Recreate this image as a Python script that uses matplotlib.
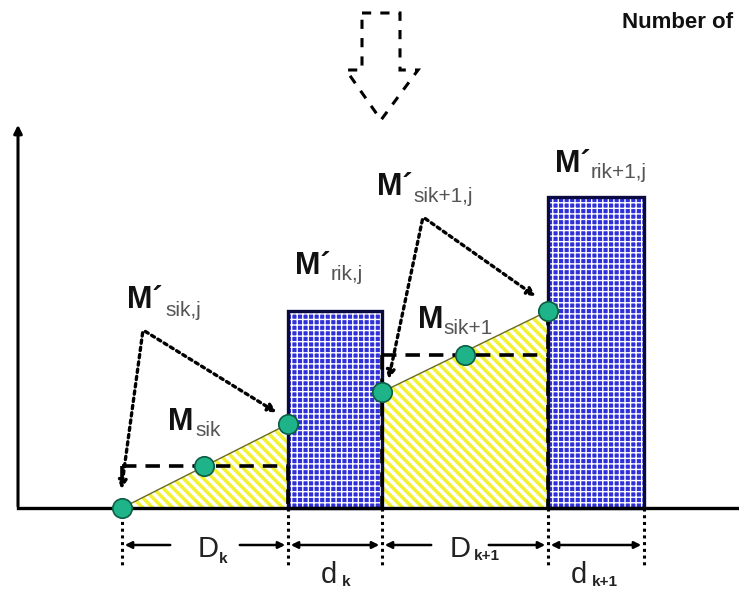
import matplotlib
matplotlib.use("Agg")
import matplotlib.pyplot as plt
from matplotlib.patches import Polygon, Rectangle
import numpy as np

plt.rcParams['font.family'] = ['Liberation Sans', 'DejaVu Sans']
plt.rcParams['hatch.linewidth'] = 1.0

# diagram geometry (pixel units, y grows downward)
base_y = 508
t_edges = [122, 288, 382, 548, 644]          # time boundaries of D_k, d_k, D_k+1, d_k+1
rik_tops = [311, 197]                         # top of the two blue bars (M'rik,j)
sik_start = [508, 392]                        # value at start of each sampling period
sik_end = [424, 311]                          # value at end of each sampling period (M'sik,j)
sik_mean = [466, 355]                         # mean value of each period (M_sik)
mean_x = [204, 465]

# labels: (main, sub, x_main, y_main, x_sub, y_sub)
labels = [
    ("M\u00b4", "sik,j", 127, 308, 165, 316),
    ("M\u00b4", "rik,j", 295, 274, 331, 280),
    ("M\u00b4", "sik+1,j", 377, 195, 413, 202),
    ("M\u00b4", "rik+1,j", 555, 172, 591, 178),
    ("M", "sik", 168, 430, 195, 436),
    ("M", "sik+1", 418, 328, 443, 334),
]
dim_labels = [("D", "k", 198, 557, 219, 563),
              ("d", "k", 321, 583, 342, 586),
              ("D", "k+1", 450, 557, 474, 560),
              ("d", "k+1", 571, 583, 592, 586)]

fig = plt.figure(figsize=(7.39, 5.91), dpi=100)
ax = fig.add_axes([0, 0, 1, 1])
ax.set_xlim(0, 739)
ax.set_ylim(591, 0)
ax.axis('off')

blue = '#3030d8'
yellow = '#f2f230'
green = '#1fb38a'

# blue bars with white grid
for i, top in enumerate(rik_tops):
    xl, xr = t_edges[2 * i + 1], t_edges[2 * i + 2]
    ax.add_patch(Rectangle((xl, top), xr - xl, base_y - top, facecolor=blue,
                           edgecolor='white', hatch='+++', lw=0, zorder=2))
    ax.add_patch(Rectangle((xl, top), xr - xl, base_y - top, facecolor='none',
                           edgecolor='#0a0a40', lw=2.4, zorder=3))

# yellow areas with white diagonal stripes
for i in range(2):
    xl, xr = t_edges[2 * i], t_edges[2 * i + 1]
    poly = Polygon([(xl, base_y), (xl, sik_start[i]), (xr, sik_end[i]), (xr, base_y)],
                   closed=True, facecolor=yellow, edgecolor='none', zorder=2)
    ax.add_patch(poly)
    for c in np.arange(-700, 700, 10):
        xs = np.array([0, 739])
        ln, = ax.plot(xs, xs + c, color='white', lw=2.6, zorder=2.5)
        ln.set_clip_path(poly)
    ax.plot([xl, xr], [sik_start[i], sik_end[i]], color='#6b6b20', lw=1.0, zorder=3)

# dashed mean lines and verticals
dash = dict(color='black', lw=2.6, ls=(0, (4, 2.5)), zorder=4)
ax.plot([t_edges[0], t_edges[1]], [sik_mean[0]] * 2, **dash)
ax.plot([t_edges[0], t_edges[0]], [sik_mean[0], sik_mean[0] + 12], **dash)
ax.plot([t_edges[1], t_edges[1]], [sik_mean[0], base_y], **dash)
ax.plot([t_edges[2], t_edges[3]], [sik_mean[1]] * 2, **dash)
ax.plot([t_edges[2], t_edges[2]], [sik_mean[1], base_y], **dash)
ax.plot([t_edges[3], t_edges[3]], [sik_end[1], base_y], **dash)

# axes
ax.plot([18, 739], [base_y, base_y], color='black', lw=2.4, zorder=5)
ax.annotate('', xy=(18, 122), xytext=(18, base_y + 1),
            arrowprops=dict(arrowstyle='-|>', color='black', lw=2.2, mutation_scale=12), zorder=5)

# green points
px = [t_edges[0], mean_x[0], t_edges[1], t_edges[2], mean_x[1], t_edges[3]]
py = [sik_start[0], sik_mean[0], sik_end[0], sik_start[1], sik_mean[1], sik_end[1]]
ax.plot(px, py, 'o', ms=14, mfc=green, mec='#0d5c44', mew=1.2, ls='none', zorder=6)

# dotted arrows from labels
dot = dict(arrowstyle='-|>', color='black', lw=2.4, ls=(0, (1, 1.2)), mutation_scale=12)
for apex, tips in [((143, 330), [(121, 492), (279, 414)]),
                   ((423, 217), [(388, 382), (538, 298)])]:
    for tip in tips:
        ax.annotate('', xy=tip, xytext=apex, arrowprops=dot, zorder=7)

# labels
for main, sub, xm, ym, xs, ys in labels:
    ax.text(xm, ym, main, fontsize=22, fontweight='bold', color='#111111', va='baseline', ha='left')
    ax.text(xs, ys, sub, fontsize=15, color='#555555', va='baseline', ha='left')

# dimension lines below the axis
for x in t_edges:
    ax.plot([x, x], [base_y, 568], color='black', lw=2.2, ls=(0, (1, 1.2)), zorder=4)
ar = dict(arrowstyle='-|>', color='black', lw=1.8, mutation_scale=10)
ay = 545
ax.annotate('', xy=(t_edges[0], ay), xytext=(173, ay), arrowprops=ar)
ax.annotate('', xy=(t_edges[1], ay), xytext=(237, ay), arrowprops=ar)
ax.annotate('', xy=(t_edges[2], ay), xytext=(434, ay), arrowprops=ar)
ax.annotate('', xy=(t_edges[3], ay), xytext=(486, ay), arrowprops=ar)
ax.annotate('', xy=(t_edges[1], ay), xytext=(t_edges[2], ay),
            arrowprops=dict(arrowstyle='<|-|>', color='black', lw=1.8, mutation_scale=10))
ax.annotate('', xy=(t_edges[3], ay), xytext=(t_edges[4], ay),
            arrowprops=dict(arrowstyle='<|-|>', color='black', lw=1.8, mutation_scale=10))
for main, sub, xm, ym, xs, ys in dim_labels:
    ax.text(xm, ym, main, fontsize=21, color='#222222', va='baseline', ha='left')
    ax.text(xs, ys, sub, fontsize=11, fontweight='bold', color='#222222', va='baseline', ha='left')

# dashed big arrow at the top
arrow_pts = [(362, 13), (400, 13), (400, 70), (418, 70), (381, 120), (346, 70), (362, 70)]
ax.add_patch(Polygon(arrow_pts, closed=True, fill=False, edgecolor='black', lw=2.2,
                     ls=(0, (3, 3))))

ax.text(622, 28, "Number of", fontsize=16, fontweight='bold', color='#111111',
        va='baseline', ha='left')

fig.savefig('out.png', dpi=100)
